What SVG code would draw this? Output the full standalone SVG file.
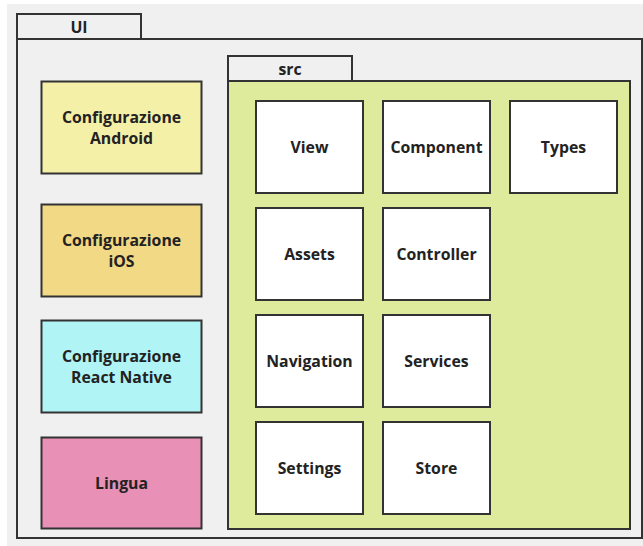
<svg xmlns="http://www.w3.org/2000/svg" width="643" height="546" viewBox="0 0 643 546">
  <style>
    .frame { fill: #f0f0f0; stroke: #333333; stroke-width: 2; }
    .box { stroke: #333333; stroke-width: 2; }
    .mod { fill: #ffffff; stroke: #333333; stroke-width: 2; }
    .lbl { font-family: "Open Sans", "Noto Sans", "DejaVu Sans", sans-serif; font-weight: 700; font-size: 15.8px; fill: #222222; text-anchor: middle; dominant-baseline: central; }
  </style>
  <rect x="0" y="0" width="643" height="546" fill="#ffffff"/>
  <rect x="7" y="4" width="636" height="542" fill="#f0f0f0"/>

  <!-- UI package -->
  <g id="ui">
    <rect class="frame" x="17" y="14" width="124" height="25"/>
    <text class="lbl" x="79" y="26.5">UI</text>
    <rect class="frame" x="17" y="39" width="625" height="499"/>
  </g>

  <!-- platform configuration blocks -->
  <g id="cfg-android">
    <rect class="box" x="41.5" y="81.5" width="160" height="92" fill="#f5f0a8"/>
    <text class="lbl" x="121.5" y="116.5">Configurazione</text>
    <text class="lbl" x="121.5" y="138">Android</text>
  </g>
  <g id="cfg-ios">
    <rect class="box" x="41.5" y="204.5" width="160" height="92" fill="#f2d985"/>
    <text class="lbl" x="121.5" y="239.5">Configurazione</text>
    <text class="lbl" x="121.5" y="261">iOS</text>
  </g>
  <g id="cfg-react-native">
    <rect class="box" x="41.5" y="320.5" width="160" height="92" fill="#b0f4f6"/>
    <text class="lbl" x="121.5" y="355.5">Configurazione</text>
    <text class="lbl" x="121.5" y="377">React Native</text>
  </g>
  <g id="lingua">
    <rect class="box" x="41.5" y="437.5" width="160" height="91" fill="#e890b5"/>
    <text class="lbl" x="121.5" y="482.5">Lingua</text>
  </g>

  <!-- src package -->
  <g id="src">
    <rect class="frame" x="228" y="56" width="124" height="25"/>
    <text class="lbl" x="290" y="68.5">src</text>
    <rect class="box" x="228" y="81" width="402" height="448" fill="#deeb9c"/>
  </g>

  <g id="view">
    <rect class="mod" x="256" y="101" width="107" height="92"/>
    <text class="lbl" x="309.5" y="146.5">View</text>
  </g>
  <g id="component">
    <rect class="mod" x="383" y="101" width="107" height="92"/>
    <text class="lbl" x="436.5" y="146.5">Component</text>
  </g>
  <g id="types">
    <rect class="mod" x="510" y="101" width="107" height="92"/>
    <text class="lbl" x="563.5" y="146.5">Types</text>
  </g>
  <g id="assets">
    <rect class="mod" x="256" y="208" width="107" height="92"/>
    <text class="lbl" x="309.5" y="253.5">Assets</text>
  </g>
  <g id="controller">
    <rect class="mod" x="383" y="208" width="107" height="92"/>
    <text class="lbl" x="436.5" y="253.5">Controller</text>
  </g>
  <g id="navigation">
    <rect class="mod" x="256" y="315" width="107" height="92"/>
    <text class="lbl" x="309.5" y="360.5">Navigation</text>
  </g>
  <g id="services">
    <rect class="mod" x="383" y="315" width="107" height="92"/>
    <text class="lbl" x="436.5" y="360.5">Services</text>
  </g>
  <g id="settings">
    <rect class="mod" x="256" y="422" width="107" height="92"/>
    <text class="lbl" x="309.5" y="467.5">Settings</text>
  </g>
  <g id="store">
    <rect class="mod" x="383" y="422" width="107" height="92"/>
    <text class="lbl" x="436.5" y="467.5">Store</text>
  </g>

  <g id="connectors"/>
</svg>
